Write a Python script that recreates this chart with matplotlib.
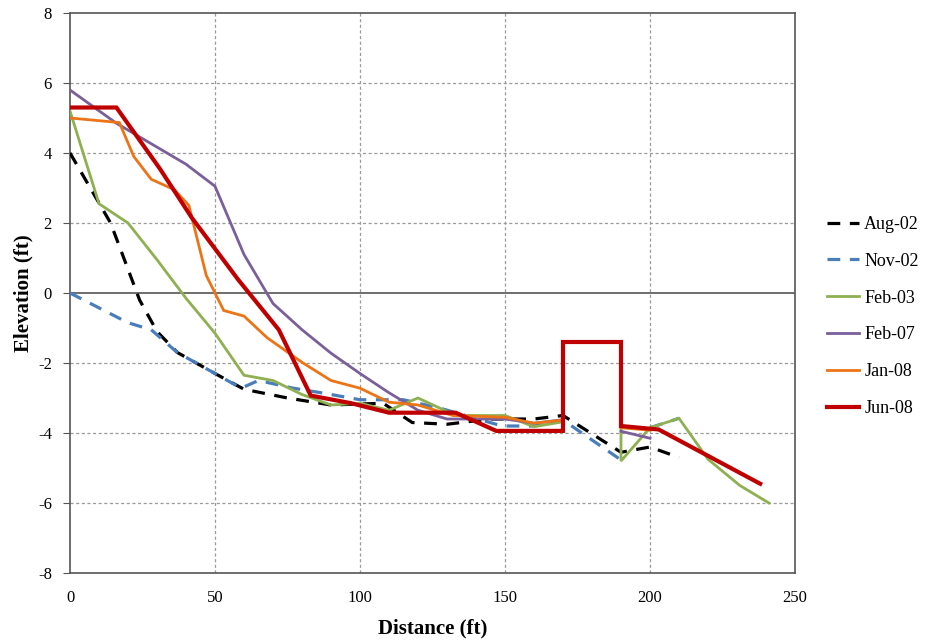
import numpy as np
import matplotlib
matplotlib.use("Agg")
import matplotlib.pyplot as plt

nan = np.nan

aug02_x = [0, 14, 24, 30, 37, 50, 60, 75, 90, 108, 118, 130, 145, 160, 170, 190, 200, 210]
aug02_y = [4.0, 2.0, -0.2, -1.1, -1.7, -2.3, -2.75, -3.0, -3.2, -3.15, -3.7, -3.75, -3.6, -3.6, -3.5, -4.55, -4.4, -4.7]

nov02_x = [0, 20, 28, 37, 50, 59, 65, 77, 88, 100, 115, 128, 149, 160, 170, 190, 195, 200, 210]
nov02_y = [0.0, -0.85, -1.05, -1.7, -2.3, -2.72, -2.5, -2.72, -2.87, -3.05, -3.05, -3.3, -3.8, -3.8, -3.63, -4.77, nan, -3.85, -3.58]

feb03_x = [0, 10, 20, 30, 40, 50, 60, 70, 80, 90, 100, 110, 120, 133, 150, 160, 170, 180, 190, 190, 200, 210, 220, 231, 241]
feb03_y = [5.2, 2.55, 2.0, 0.95, -0.15, -1.15, -2.35, -2.5, -2.9, -3.2, -3.15, -3.35, -3.0, -3.5, -3.5, -3.82, -3.68, nan, -3.85, -4.8, -3.85, -3.58, -4.75, -5.5, -6.0]

feb07_x = [0, 16, 40, 50, 60, 70, 80, 90, 100, 110, 120, 130, 140, 150, 160, 170, 180, 190, 200]
feb07_y = [5.8, 4.85, 3.68, 3.05, 1.1, -0.3, -1.05, -1.72, -2.3, -2.85, -3.35, -3.6, -3.6, -3.6, -3.72, -3.62, nan, -3.95, -4.15]

jan08_x = [0, 17, 22, 28, 36, 41, 47, 53, 60, 68, 80, 90, 100, 110, 120, 132, 150, 160, 170, 180, 190, 200]
jan08_y = [5.0, 4.87, 3.9, 3.25, 2.95, 2.5, 0.5, -0.5, -0.66, -1.28, -1.98, -2.5, -2.72, -3.12, -3.2, -3.5, -3.55, -3.72, -3.63, nan, -3.85, -3.92]

jun08_x = [0, 16, 31, 42, 58, 72, 83, 97, 110, 133, 147, 170, 170, 190, 190, 203, 238]
jun08_y = [5.3, 5.3, 3.55, 2.15, 0.38, -1.05, -2.93, -3.15, -3.42, -3.42, -3.94, -3.94, -1.4, -1.4, -3.8, -3.9, -5.45]

series = [
    ("Aug-02", aug02_x, aug02_y, "#000000", 2.3, (0, (4, 3))),
    ("Nov-02", nov02_x, nov02_y, "#4a7ebb", 2.3, (0, (4, 3))),
    ("Feb-03", feb03_x, feb03_y, "#8fb050", 2.0, "-"),
    ("Feb-07", feb07_x, feb07_y, "#7a5f9a", 2.0, "-"),
    ("Jan-08", jan08_x, jan08_y, "#ec7416", 2.0, "-"),
    ("Jun-08", jun08_x, jun08_y, "#c00000", 3.0, "-"),
]

xticks = [0, 50, 100, 150, 200, 250]
yticks = [-8, -6, -4, -2, 0, 2, 4, 6, 8]

plt.rcParams['font.family'] = ['Liberation Serif', 'DejaVu Serif']

fig = plt.figure(figsize=(9.3, 6.43), dpi=100)
ax = fig.add_axes([70/930, 1-573/643, (795-70)/930, (573-13)/643])

for lab, xs, ys, c, lw, ls in series:
    ax.plot(xs, ys, color=c, lw=lw, linestyle=ls, label=lab, solid_joinstyle='miter', zorder=3)

ax.set_xlim(0, 250)
ax.set_ylim(-8, 8)
ax.set_xticks(xticks)
ax.set_yticks(yticks)
ax.set_xticklabels([str(v) for v in xticks], fontsize=12)
ax.set_yticklabels([str(v) for v in yticks], fontsize=12)

for v in xticks[1:-1]:
    ax.axvline(v, color="#9a9a9a", lw=0.9, linestyle=(0, (2.5, 2)), zorder=1)
for v in yticks[1:-1]:
    if v != 0:
        ax.axhline(v, color="#9a9a9a", lw=0.9, linestyle=(0, (2.5, 2)), zorder=1)
ax.axhline(0, color="#555555", lw=1.2, zorder=2)

for s in ax.spines.values():
    s.set_color("#555555")
    s.set_linewidth(1.2)

ax.tick_params(axis='x', length=0, pad=12)
ax.tick_params(axis='y', length=5, direction='out', color="#555555", pad=8)

ax.set_xlabel("Distance (ft)", fontsize=15, fontweight='bold', labelpad=9)
ax.set_ylabel("Elevation (ft)", fontsize=15, fontweight='bold', labelpad=3)

leg = ax.legend(loc='center left', bbox_to_anchor=(1.022, 0.458), frameon=False,
                fontsize=13, handlelength=1.75, labelspacing=1.1, handletextpad=0.3)

fig.savefig("out.png", dpi=100)
